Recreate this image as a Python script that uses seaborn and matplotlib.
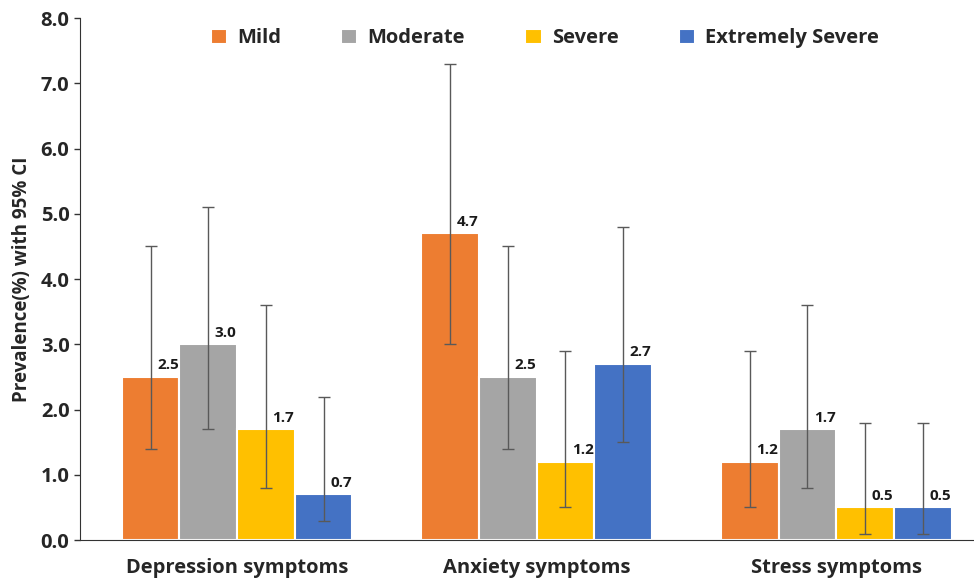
import pandas as pd
import matplotlib.pyplot as plt
import seaborn as sns

categories = ["Depression symptoms", "Anxiety symptoms", "Stress symptoms"]
levels = ["Mild", "Moderate", "Severe", "Extremely Severe"]
colors = ["#ED7D31", "#A5A5A5", "#FFC000", "#4472C4"]

# prevalence per level, ordered by category
mild = [2.5, 4.7, 1.2]
moderate = [3.0, 2.5, 1.7]
severe = [1.7, 1.2, 0.5]
extreme = [0.7, 2.7, 0.5]

# 95% CI bounds
mild_lo = [1.4, 3.0, 0.5]
mild_hi = [4.5, 7.3, 2.9]
moderate_lo = [1.7, 1.4, 0.8]
moderate_hi = [5.1, 4.5, 3.6]
severe_lo = [0.8, 0.5, 0.1]
severe_hi = [3.6, 2.9, 1.8]
extreme_lo = [0.3, 1.5, 0.1]
extreme_hi = [2.2, 4.8, 1.8]

values = [mild, moderate, severe, extreme]
lows = [mild_lo, moderate_lo, severe_lo, extreme_lo]
highs = [mild_hi, moderate_hi, severe_hi, extreme_hi]

rows = []
for lvl, v, lo, hi in zip(levels, values, lows, highs):
    for cat, a, b, c in zip(categories, v, lo, hi):
        rows.append({"Symptom": cat, "Level": lvl, "Prevalence": a, "lo": b, "hi": c})
df = pd.DataFrame(rows)

sns.set_style("white")
plt.rcParams["font.family"] = ["Open Sans", "DejaVu Sans"]

fig = plt.figure(figsize=(9.74, 5.82), dpi=100)
ax = fig.add_axes([0.082, 0.072, 0.918, 0.897])

sns.barplot(data=df, x="Symptom", y="Prevalence", hue="Level", order=categories,
            hue_order=levels, palette=colors, width=0.77, errorbar=None,
            edgecolor="white", linewidth=1.5, saturation=1, ax=ax)

# error bars and labels, one container per level
for cont, lvl in zip(ax.containers, levels):
    sub = df[df["Level"] == lvl].set_index("Symptom").loc[categories]
    for bar, (_, r) in zip(cont.patches, sub.iterrows()):
        cx = bar.get_x() + bar.get_width() / 2
        ax.errorbar(cx, r["Prevalence"],
                    yerr=[[r["Prevalence"] - r["lo"]], [r["hi"] - r["Prevalence"]]],
                    fmt="none", ecolor="#595959", elinewidth=1, capsize=4, capthick=1)
        ax.text(cx + 0.058, r["Prevalence"] + 0.07, f"{r['Prevalence']:.1f}",
                ha="center", va="bottom", fontsize=11, fontweight="bold", color="#1a1a1a")

ax.set_ylim(0, 8)
ax.set_yticks([i * 1.0 for i in range(9)])
ax.set_yticklabels([f"{i:.1f}" for i in range(9)], fontsize=14.5, fontweight="bold")
ax.set_xlim(-0.525, 2.46)
ax.set_xlabel("")
ax.set_ylabel("Prevalence(%) with 95% CI", fontsize=13.5, fontweight="bold", labelpad=6)
ax.tick_params(axis="x", length=0, labelsize=14.5, pad=13)
ax.tick_params(axis="y", length=4, width=1, direction="out", left=True, color="#333333")
for lab in ax.get_xticklabels():
    lab.set_fontweight("bold")

sns.despine(ax=ax, top=True, right=True)
ax.spines["left"].set_color("#333333")
ax.spines["bottom"].set_color("#333333")

ax.legend(loc="upper center", bbox_to_anchor=(0.52, 1.015), ncol=4, frameon=False,
          prop={"weight": "bold", "size": 14.5}, handlelength=0.8, handleheight=0.8,
          columnspacing=3.0, handletextpad=0.5)

fig.savefig("out.png", dpi=100)
